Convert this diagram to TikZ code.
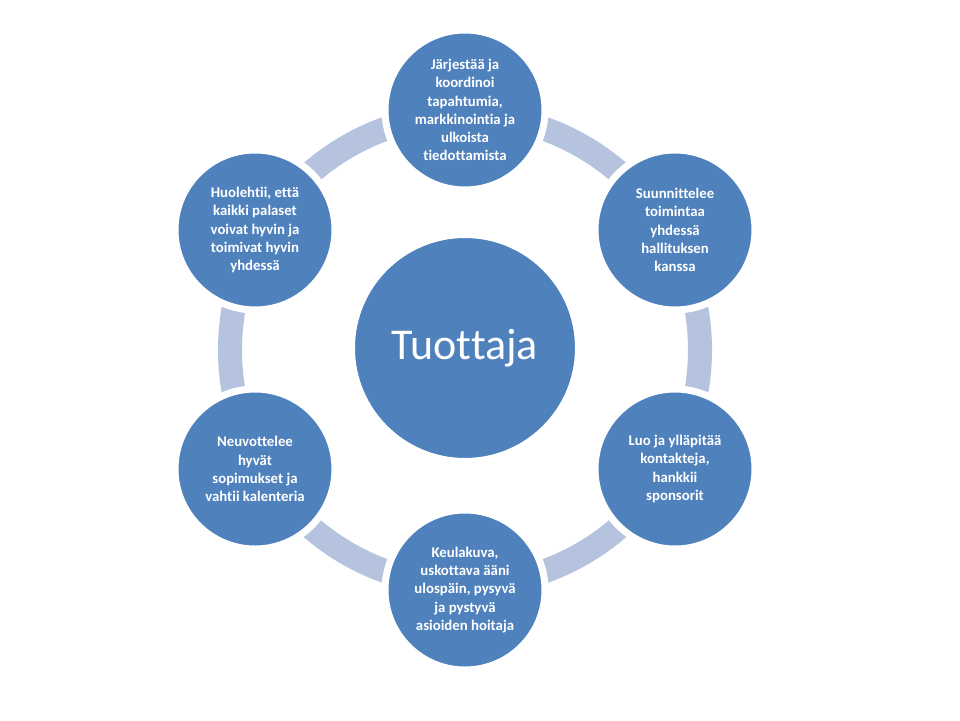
\documentclass[tikz,border=0pt]{standalone}
\usepackage{fontspec}
\setmainfont[Ligatures={NoCommon}]{Carlito}
\definecolor{cfill}{HTML}{4F81BD}
\definecolor{cring}{HTML}{B5C3DE}
\begin{document}
\begin{tikzpicture}[x=1pt,y=-1pt,
  outer/.style={circle,fill=cfill,draw=white,line width=7pt,minimum size=160pt,inner sep=0pt,
    text=white,align=center,font=\fontsize{14.8}{18.2}\selectfont\bfseries},
  hub/.style={circle,fill=cfill,draw=white,line width=3pt,minimum size=223pt,inner sep=0pt,
    text=white,font=\fontsize{44}{50}\selectfont},
  ring/.style={draw=cring,line width=24pt}]
\useasboundingbox[fill=white] (0,0) rectangle (960,720);
\coordinate (c) at (465,350);
\draw[ring] (c) circle[radius=235];
\node[hub] (hubnode) at (465,348) {Tuottaja};
\node[outer] (n1) at (465,110) {Järjestää ja\\koordinoi\\tapahtumia,\\markkinointia ja\\ulkoista\\tiedottamista};
\node[outer] (n2) at (675,230) {Suunnittelee\\toimintaa\\yhdessä\\hallituksen\\kanssa};
\node[outer] (n3) at (675,469) {Luo ja ylläpitää\\kontakteja,\\hankkii\\sponsorit};
\node[outer] (n4) at (465,590) {Keulakuva,\\uskottava ääni\\ulospäin, pysyvä\\ja pystyvä\\asioiden hoitaja};
\node[outer] (n5) at (255,469) {Neuvottelee\\hyvät\\sopimukset ja\\vahtii kalenteria};
\node[outer] (n6) at (255,230) {Huolehtii, että\\kaikki palaset\\voivat hyvin ja\\toimivat hyvin\\yhdessä};
\end{tikzpicture}
\end{document}
